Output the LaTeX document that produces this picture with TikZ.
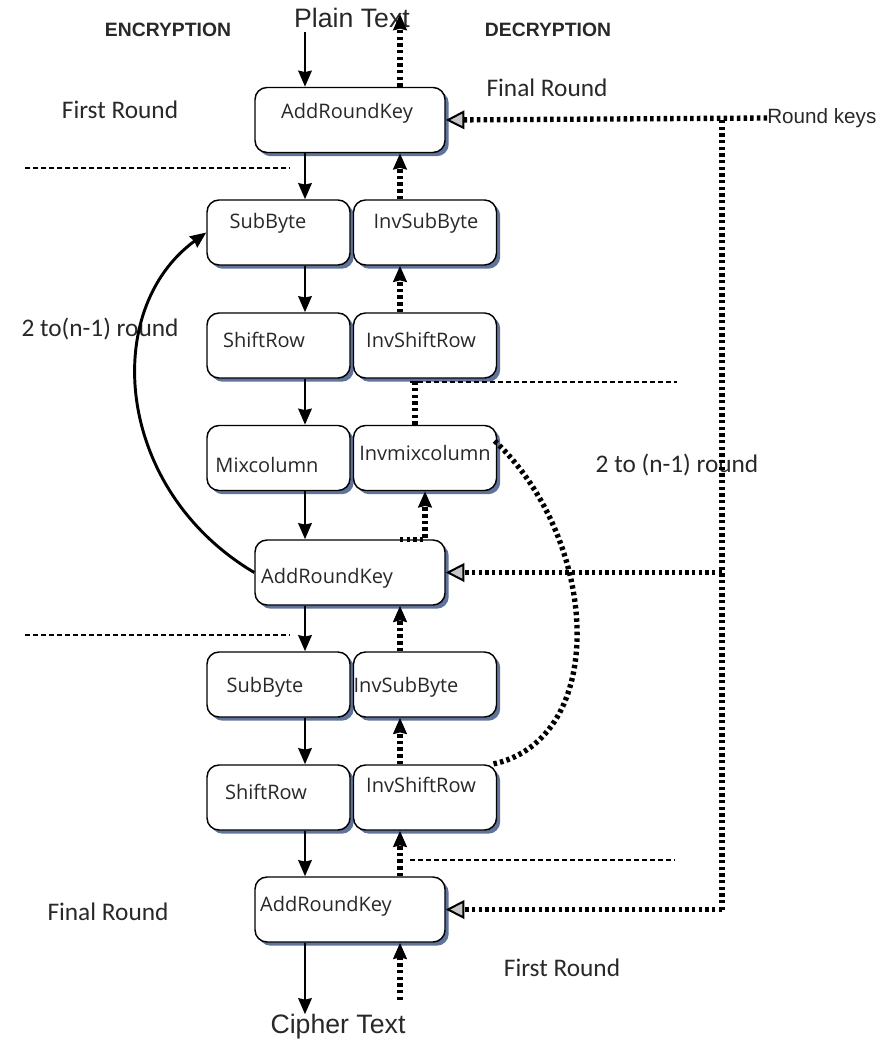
\documentclass[tikz,border=0pt]{standalone}
\usepackage{fontspec}
\setmainfont{Carlito}
\newfontfamily\boxfont{Open Sans}
\newfontfamily\arialfont{Liberation Sans}
\usetikzlibrary{arrows.meta,shadows}
\definecolor{shadowblue}{RGB}{95,115,155}
\definecolor{txtgray}{RGB}{40,40,40}
\begin{document}
\begin{tikzpicture}[x=0.75pt,y=-0.75pt,
  blk/.style={draw=black, line width=1.1pt, rounded corners=9pt, fill=white,
    drop shadow={shadow xshift=2.8pt, shadow yshift=-2.8pt, fill=shadowblue, opacity=1},
    inner sep=0pt, minimum height=48.75pt},
  wideblk/.style={blk, minimum width=142.5pt},
  halfblk/.style={blk, minimum width=107.25pt},
  btxt/.style={font=\boxfont\fontsize{15}{18}\selectfont, text=txtgray, inner sep=0pt},
  lbl/.style={font=\fontsize{19}{22}\selectfont, text=txtgray, inner sep=0pt},
  big/.style={font=\arialfont\fontsize{20}{24}\selectfont, text=txtgray, inner sep=0pt},
  head/.style={font=\arialfont\bfseries\fontsize{14.5}{17}\selectfont, text=txtgray, inner sep=0pt},
  sarrow/.style={line width=2.2pt, -{Stealth[length=12pt,width=10pt,inset=1pt]}},
  dline/.style={line width=4pt, dash pattern=on 2.6pt off 2.4pt},
  darrow/.style={dline, -{Stealth[length=12pt,width=10pt,inset=1pt]}},
  karrow/.style={dline, -{Triangle[length=14pt,width=14pt,fill=gray!45,line width=1.5pt]}},
  thindash/.style={line width=0.9pt, dash pattern=on 4pt off 2pt}
]
\useasboundingbox (0,0) rectangle (879,1044);

% headings
\node[head] (enc) at (168,30) {ENCRYPTION};
\node[head] (dec) at (548,30) {DECRYPTION};
\node[big] (pt) at (352,18) {Plain Text};
\node[big] (ct) at (338,1027) {Cipher Text};
\node[lbl] (fr1) at (120,110) {First Round};
\node[lbl] (fin1) at (547,88) {Final Round};
\node[font=\arialfont\fontsize{15.5}{18}\selectfont, text=txtgray, inner sep=0pt, anchor=west] (rk) at (767,118) {Round keys};
\node[lbl] (mid1) at (100,329) {2 to(n-1) round};
\node[lbl] (mid2) at (677,465) {2 to (n-1) round};
\node[lbl] (fin2) at (108,912) {Final Round};
\node[lbl] (fr2) at (562,968) {First Round};

% boxes
\node[wideblk] (ark1) at (350,120) {};
\node[halfblk] (sb1) at (278.5,232.5) {};
\node[halfblk] (isb1) at (425,232.5) {};
\node[halfblk] (sr1) at (278.5,345.5) {};
\node[halfblk] (isr1) at (425,345.5) {};
\node[halfblk] (mc) at (278.5,458) {};
\node[halfblk] (imc) at (425,458) {};
\node[wideblk] (ark2) at (350,572.5) {};
\node[halfblk] (sb2) at (278.5,684.5) {};
\node[halfblk] (isb2) at (425,684.5) {};
\node[halfblk] (sr2) at (278.5,797.5) {};
\node[halfblk] (isr2) at (425,797.5) {};
\node[wideblk] (ark3) at (350,909.5) {};

% box texts
\node[btxt] (t1) at (347,113) {AddRoundKey};
\node[btxt] (t2) at (268,223) {SubByte};
\node[btxt] (t3) at (426,223) {InvSubByte};
\node[btxt] (t4) at (264,340) {ShiftRow};
\node[btxt] (t5) at (421,340) {InvShiftRow};
\node[btxt] (t6) at (267,465) {Mixcolumn};
\node[btxt] (t7) at (425,453) {Invmixcolumn};
\node[btxt] (t8) at (327,578) {AddRoundKey};
\node[btxt] (t9) at (265,687) {SubByte};
\node[btxt] (t10) at (406,687) {InvSubByte};
\node[btxt] (t11) at (266,792) {ShiftRow};
\node[btxt] (t12) at (421,785) {InvShiftRow};
\node[btxt] (t13) at (326,906) {AddRoundKey};

% column coordinates
\coordinate (ex) at (305,0);
\coordinate (dx) at (400,0);
\coordinate (dx2) at (415,0);
\coordinate (dx3) at (425,0);
\coordinate (vx) at (722,0);
\coordinate (ptop) at (400,14);
\coordinate (cbot) at (400,1000);

% encryption (solid)
\draw[sarrow] (ex |- pt.south) ++(0,4) -- (ex |- ark1.north);
\draw[sarrow] (ex |- ark1.south) -- (ex |- sb1.north);
\draw[sarrow] (ex |- sb1.south) -- (ex |- sr1.north);
\draw[sarrow] (ex |- sr1.south) -- (ex |- mc.north);
\draw[sarrow] (ex |- mc.south) -- (ex |- ark2.north);
\draw[sarrow] (ex |- ark2.south) -- (ex |- sb2.north);
\draw[sarrow] (ex |- sb2.south) -- (ex |- sr2.north);
\draw[sarrow] (ex |- sr2.south) -- (ex |- ark3.north);
\draw[sarrow] (ex |- ark3.south) -- (ex |- ct.north);

% decryption (dotted)
\draw[darrow] (dx |- ark1.north) -- (ptop);
\draw[darrow] (dx |- sb1.north) -- (dx |- ark1.south);
\draw[darrow] (dx |- sr1.north) -- (dx |- sb1.south);
\draw[dline] (dx2 |- imc.north) -- (dx2 |- isr1.south);
\draw[darrow] (dx |- ark2.north) -- (dx3 |- ark2.north) -- (dx3 |- imc.south);
\draw[darrow] (dx |- sb2.north) -- (dx |- ark2.south);
\draw[darrow] (dx |- sr2.north) -- (dx |- sb2.south);
\draw[darrow] (dx |- ark3.north) -- (dx |- sr2.south);
\draw[darrow] (cbot) -- (dx |- ark3.south);

% round keys
\draw[karrow] (rk.west) -- (ark1.east);
\draw[dline] (vx |- ark1.east) -- (vx |- ark3.east);
\draw[karrow] (vx |- ark2.east) -- (ark2.east);
\draw[karrow] (vx |- ark3.east) -- (ark3.east);

% loops
\draw[sarrow] (ark2.west) .. controls (115,490) and (100,310) .. (sb1.west);
\draw[dline] ([xshift=-2pt,yshift=-12pt]imc.north east) .. controls (600,540) and (610,740) .. ([xshift=-4pt]isr2.north east);

% separators
\draw[thindash] (25,168) -- (290,168);
\draw[thindash] (410,382) -- (677,382);
\draw[thindash] (25,635) -- (290,635);
\draw[thindash] (410,860) -- (675,860);
\end{tikzpicture}
\end{document}
